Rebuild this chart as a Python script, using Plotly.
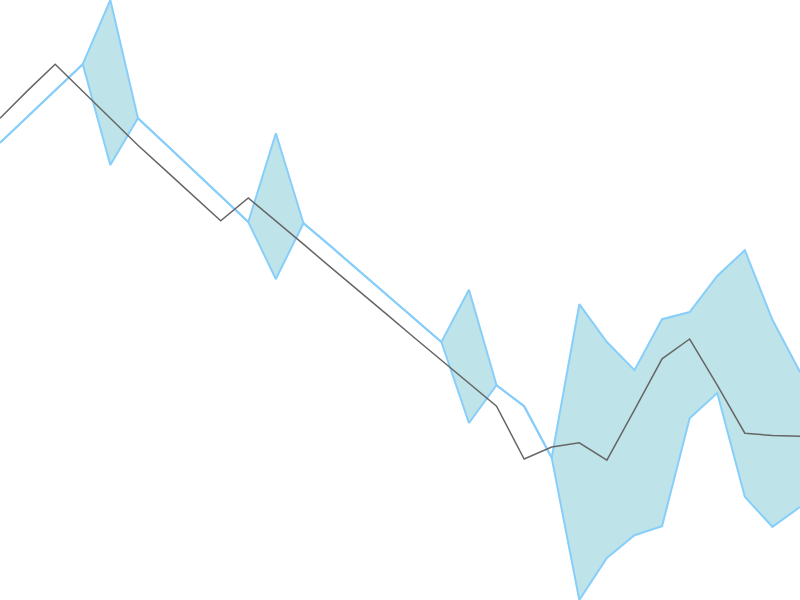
import plotly.graph_objects as go

x = list(range(30))
actual = [80.3, 84.9, 89.3, 84.8, 80.3, 75.8, 71.6, 67.4, 63.2, 67.0,
          63.2, 59.3, 55.4, 51.6, 47.7, 43.8, 40.0, 36.2, 32.3, 23.5,
          25.5, 26.2, 23.3, 31.7, 40.2, 43.5, 35.8, 27.8, 27.4, 27.3]
upper = [76.2, 80.6, 84.9, 89.3, 100.0, 80.3, 76.0, 71.7, 67.3, 63.0,
         77.8, 62.8, 58.9, 54.9, 50.9, 47.0, 43.0, 51.7, 35.8, 32.3,
         23.7, 49.3, 43.0, 38.3, 46.8, 48.0, 54.0, 58.3, 46.7, 38.0]
lower = [76.2, 80.6, 84.9, 89.3, 72.5, 80.3, 76.0, 71.7, 67.3, 63.0,
         53.5, 62.8, 58.9, 54.9, 50.9, 47.0, 43.0, 29.5, 35.8, 32.3,
         23.7, 0.0, 7.0, 10.8, 12.3, 30.3, 34.5, 17.2, 12.2, 15.5]

fig = go.Figure()
fig.add_trace(go.Scatter(x=x, y=lower, mode="lines",
                         line=dict(color="#87CEFA", width=2), showlegend=False))
fig.add_trace(go.Scatter(x=x, y=upper, mode="lines", fill="tonexty",
                         fillcolor="rgb(190,228,233)",
                         line=dict(color="#87CEFA", width=2), showlegend=False))
fig.add_trace(go.Scatter(x=x, y=actual, mode="lines",
                         line=dict(color="#666666", width=1.5), showlegend=False))

fig.update_layout(width=800, height=600, margin=dict(l=0, r=0, t=0, b=0),
                  paper_bgcolor="white", plot_bgcolor="white")
fig.update_xaxes(visible=False, range=[0, 29])
fig.update_yaxes(visible=False, range=[0, 100])
fig.write_html("out.html", config={"displayModeBar": False},
               post_script="document.body.style.margin='0';document.body.style.overflow='hidden';")
